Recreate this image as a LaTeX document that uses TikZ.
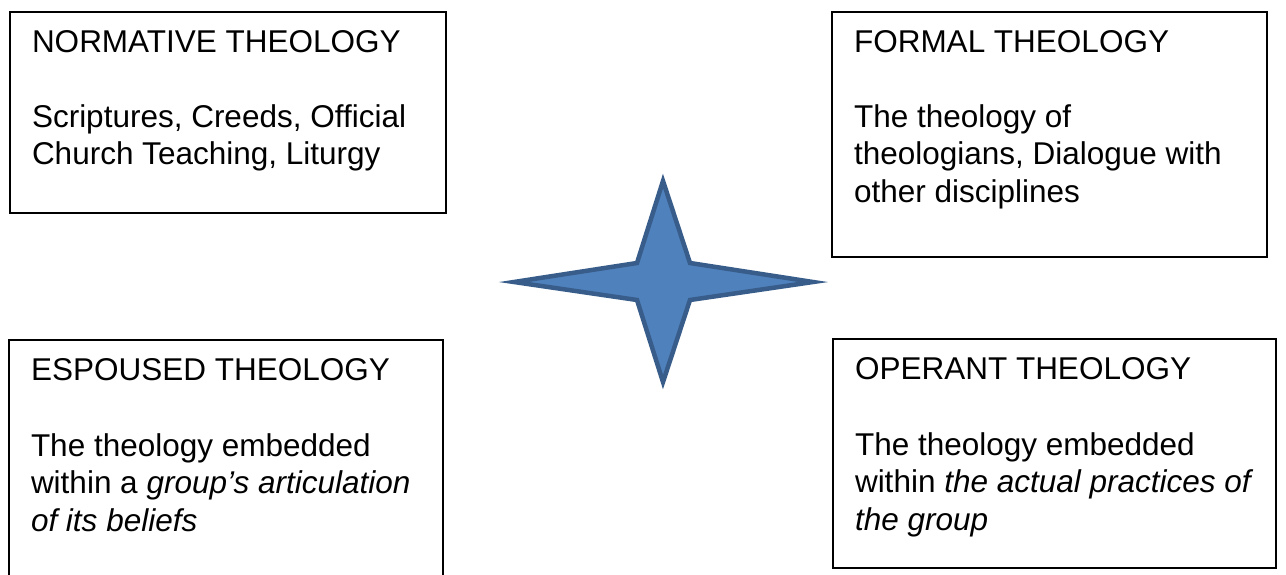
\documentclass[tikz,border=0pt]{standalone}
\usepackage{fontspec}
\setmainfont{Liberation Sans}
\usetikzlibrary{positioning}
\definecolor{starblue}{HTML}{4F81BD}
\definecolor{stardark}{HTML}{385D8A}
\begin{document}
\begin{tikzpicture}[x=1pt,y=-1pt]
	\tikzstyle{every node}=[inner sep=0pt,outer sep=0pt]
	\tikzset{theobox/.style={draw,rectangle,line width=1.4pt,anchor=north west}}
	\tikzset{theotext/.style={anchor=north west,align=left,xshift=22pt,yshift=-19pt,font=\fontsize{31.5}{37.5}\selectfont}}
	\useasboundingbox (0,0) rectangle (1286,575);
	\node[theobox,minimum width=436pt,minimum height=201pt] (normative) at (10,12) {};
	\node[theobox,minimum width=435pt,minimum height=245pt] (formal) at (832,12) {};
	\node[theobox,minimum width=434pt,minimum height=250pt] (espoused) at (9,340) {};
	\node[theobox,minimum width=443pt,minimum height=229pt] (operant) at (833,339) {};
	\node[theotext] (normativetext) at (normative.north west)
		{NORMATIVE THEOLOGY\\[37pt]
		Scriptures, Creeds, Official\\
		Church Teaching, Liturgy};
	\node[theotext] (formaltext) at (formal.north west)
		{FORMAL THEOLOGY\\[37pt]
		The theology of\\
		theologians, Dialogue with\\
		other disciplines};
	\node[theotext] (espousedtext) at (espoused.north west)
		{ESPOUSED THEOLOGY\\[38pt]
		The theology embedded\\
		within a \textit{group’s articulation}\\
		\textit{of its beliefs}};
	\node[theotext] (operanttext) at (operant.north west)
		{OPERANT THEOLOGY\\[38pt]
		The theology embedded\\
		within \textit{the actual practices of}\\
		\textit{the group}};
	\draw[fill=starblue,draw=stardark,line width=4.5pt]
		(663,181) -- (690,263) -- (813,282) -- (690,300) -- (663,382)
		-- (637,300) -- (514,282) -- (637,263) -- cycle;
\end{tikzpicture}
\end{document}
